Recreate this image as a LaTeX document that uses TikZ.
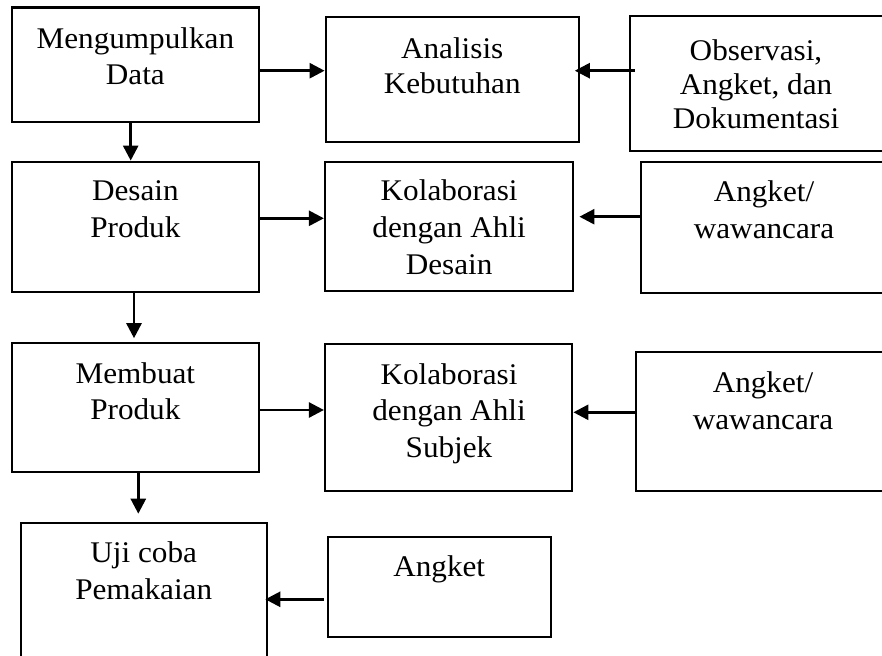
\documentclass[tikz,border=0pt]{standalone}
\usepackage{fontspec}
\setmainfont{Liberation Serif}[FakeStretch=1.04]
\usetikzlibrary{arrows.meta}
\tikzset{
  box/.style={draw, line width=2.2pt, rectangle, inner sep=0pt},
  arr/.style={line width=2.6pt, -{Triangle[length=15pt,width=15pt]}},
  txt/.style={inner sep=0pt, anchor=base},
}
\newcommand\lbl[2]{\parbox[t]{300pt}{\centering\fontsize{30}{#1}\selectfont #2}}
\begin{document}
\begin{tikzpicture}[x=1pt,y=-1pt]
\path[use as bounding box] (0,0) rectangle (882,655);
\clip (0,0) rectangle (882,655);
% boxes
\node[box, minimum width=246.7pt, minimum height=114.2pt] (b1) at (135.35,64.6) {};
\node[box, minimum width=253pt, minimum height=124.4pt] (b2) at (452.2,79.5) {};
\node[box, minimum width=256pt, minimum height=134.7pt] (b3) at (758,83.35) {};
\node[box, minimum width=246.7pt, minimum height=130pt] (b4) at (135.35,226.7) {};
\node[box, minimum width=248.3pt, minimum height=128.7pt] (b5) at (449.15,226.65) {};
\node[box, minimum width=245.3pt, minimum height=130.4pt] (b6) at (763.35,227.5) {};
\node[box, minimum width=246.7pt, minimum height=129pt] (b7) at (135.35,407.8) {};
\node[box, minimum width=247.3pt, minimum height=146.7pt] (b8) at (448.65,417.35) {};
\node[box, minimum width=250pt, minimum height=138.4pt] (b9) at (761,421.5) {};
\node[box, minimum width=246pt, minimum height=138.7pt] (b10) at (143.7,592.65) {};
\node[box, minimum width=223pt, minimum height=99.4pt] (b11) at (439.2,587) {};
% texts
\node[txt] (t1) at (135.35,48.3) {\lbl{36.2}{Mengumpulkan\\Data}};
\node[txt] (t2) at (452.2,58.3) {\lbl{35}{Analisis\\Kebutuhan}};
\node[txt] (t3) at (756,61) {\lbl{34}{Observasi,\\Angket, dan\\Dokumentasi}};
\node[txt] (t4) at (135.35,200.7) {\lbl{37}{Desain\\Produk}};
\node[txt] (t5) at (449.15,200.7) {\lbl{37}{Kolaborasi\\dengan Ahli\\Desain}};
\node[txt] (t6) at (764,201.7) {\lbl{36.6}{Angket/\\wawancara}};
\node[txt] (t7) at (135.35,383) {\lbl{36.7}{Membuat\\Produk}};
\node[txt] (t8) at (449,384) {\lbl{36.6}{Kolaborasi\\dengan Ahli\\Subjek}};
\node[txt] (t9) at (763,392.3) {\lbl{36.7}{Angket/\\wawancara}};
\node[txt] (t10) at (143.7,562.3) {\lbl{36.7}{Uji coba\\Pemakaian}};
\node[txt] (t11) at (439.2,576.3) {\lbl{36.7}{Angket}};
% connector guides
\coordinate (r1) at (0,70.7);
\coordinate (r2a) at (0,218.3);
\coordinate (r2b) at (0,216.7);
\coordinate (r3a) at (0,410);
\coordinate (r3b) at (0,412.3);
\coordinate (r4) at (0,599.3);
\coordinate (c1) at (130.7,0);
\coordinate (c2) at (134,0);
\coordinate (c3) at (138.3,0);
% connectors
\draw[arr] (b1.east |- r1) -- (b2.west |- r1);
\draw[arr, shorten <=-6pt, shorten >=-5pt] (b3.west |- r1) -- (b2.east |- r1);
\draw[arr] (b4.east |- r2a) -- (b5.west |- r2a);
\draw[arr, shorten >=5pt] (b6.west |- r2b) -- (b5.east |- r2b);
\draw[arr] (b7.east |- r3a) -- (b8.west |- r3a);
\draw[arr] (b9.west |- r3b) -- (b8.east |- r3b);
\draw[arr, shorten <=3pt, shorten >=-2.5pt] (b11.west |- r4) -- (b10.east |- r4);
\draw[arr] (b1.south -| c1) -- (b4.north -| c1);
\draw[arr, shorten >=4pt] (b4.south -| c2) -- (b7.north -| c2);
\draw[arr, shorten >=8.5pt] (b7.south -| c3) -- (b10.north -| c3);
\end{tikzpicture}
\end{document}
